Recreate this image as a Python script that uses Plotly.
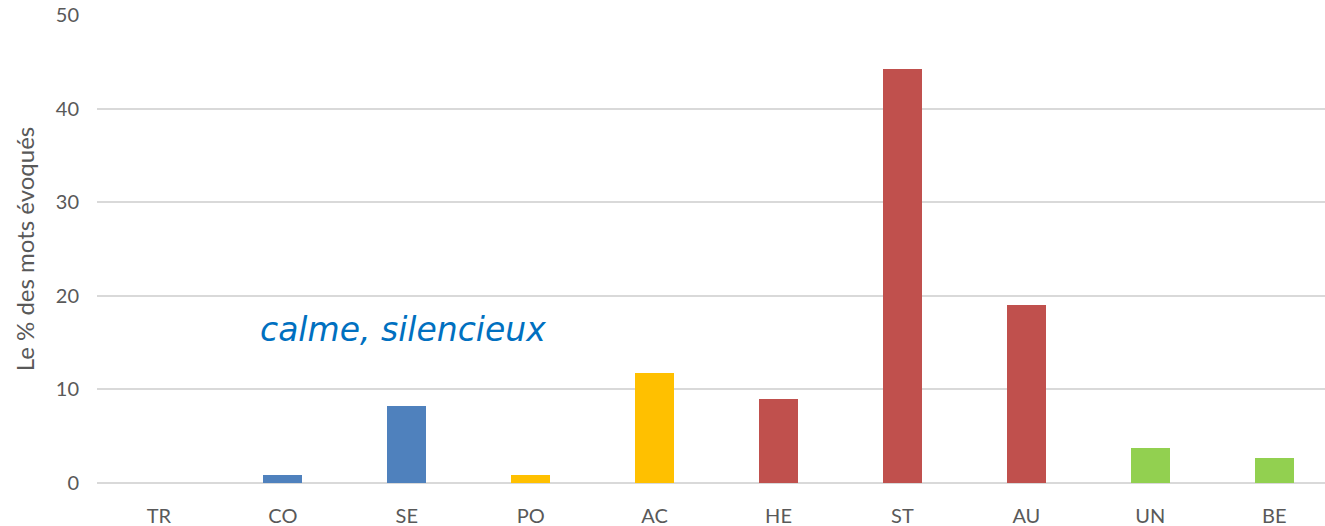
import plotly.graph_objects as go

categories = ["TR", "CO", "SE", "PO", "AC", "HE", "ST", "AU", "UN", "BE"]
values = [0, 0.9, 8.2, 0.9, 11.7, 9.0, 44.2, 19.0, 3.7, 2.7]
groups = ["blue", "blue", "blue", "yellow", "yellow", "red", "red", "red", "green", "green"]
group_colors = {"blue": "#4F81BD", "yellow": "#FFC000", "red": "#C0504D", "green": "#92D050"}
y_ticks = [0, 10, 20, 30, 40, 50]

fig = go.Figure()
fig.add_trace(go.Bar(
    x=categories,
    y=values,
    marker=dict(color=[group_colors[g] for g in groups], line=dict(width=0)),
    width=0.315,
    showlegend=False,
))

fig.add_annotation(
    x=0.131, y=16.4, xref="paper", yref="y",
    text="<i>calme, silencieux</i>", showarrow=False,
    xanchor="left", yanchor="middle",
    font=dict(family="DejaVu Sans", size=33, color="#0070C0"),
)

fig.update_layout(
    width=1325, height=526,
    margin=dict(l=97, r=0, t=15, b=43),
    plot_bgcolor="white", paper_bgcolor="white",
    font=dict(family="Lato", color="#595959", size=20),
    xaxis=dict(
        range=[-0.5, 9.41], showgrid=False, showline=False, zeroline=False,
        tickfont=dict(size=20, color="#595959"), ticks="outside", ticklen=15, tickcolor="white",
    ),
    yaxis=dict(
        range=[0, 50], tickvals=y_ticks, showgrid=True, gridcolor="#D9D9D9", gridwidth=1.5,
        zeroline=True, zerolinecolor="#D9D9D9", zerolinewidth=1.5, showline=False,
        tickfont=dict(size=20, color="#595959"), ticks="outside", ticklen=13, tickcolor="white",
        title=dict(text="Le % des mots évoqués", font=dict(size=24, color="#595959"), standoff=14),
    ),
    bargap=0,
)

fig.write_html(
    "out.html",
    config={"displayModeBar": False},
    post_script="document.body.style.margin='0';document.body.style.overflow='hidden';",
)
